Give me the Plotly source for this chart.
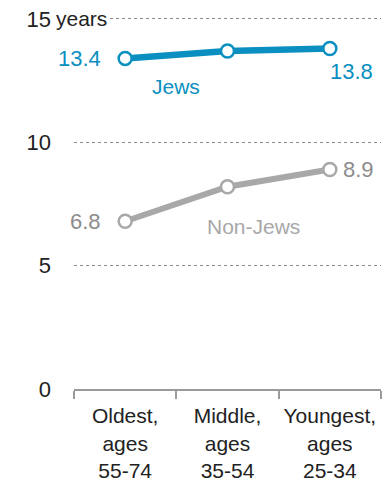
import plotly.graph_objects as go

categories = ["Oldest,<br>ages<br>55-74", "Middle,<br>ages<br>35-54", "Youngest,<br>ages<br>25-34"]
jews = [13.4, 13.7, 13.8]
non_jews = [6.8, 8.2, 8.9]
y_ticks = [0, 5, 10, 15]
y_ticktext = ["0", "5", "10", "15"]

BLUE = "#0a8fc0"
GRAY = "#a8a8a8"
GRAY_TEXT = "#8c8c8c"
FONT = "Liberation Sans"

fig = go.Figure()
fig.add_trace(go.Scatter(
    x=categories, y=non_jews, mode="lines+markers",
    line=dict(color=GRAY, width=6),
    marker=dict(size=13, color="white", line=dict(color=GRAY, width=2.5)),
    cliponaxis=False, hoverinfo="skip"))
fig.add_trace(go.Scatter(
    x=categories, y=jews, mode="lines+markers",
    line=dict(color=BLUE, width=6.5),
    marker=dict(size=13, color="white", line=dict(color=BLUE, width=2.5)),
    cliponaxis=False, hoverinfo="skip"))

ann = []
ann.append(dict(x=0, y=jews[0], text=f"{jews[0]}", xanchor="right", yanchor="middle",
                xshift=-22, font=dict(color=BLUE, size=22)))
ann.append(dict(x=2, y=jews[2], text=f"{jews[2]}", xanchor="left", yanchor="top",
                xshift=-2, yshift=-8, font=dict(color=BLUE, size=22)))
ann.append(dict(x=0, y=non_jews[0], text=f"{non_jews[0]}", xanchor="right", yanchor="middle",
                xshift=-22, font=dict(color=GRAY_TEXT, size=22)))
ann.append(dict(x=2, y=non_jews[2], text=f"{non_jews[2]}", xanchor="left", yanchor="middle",
                xshift=11, font=dict(color=GRAY_TEXT, size=22)))
ann.append(dict(x=0.5, y=12.25, text="Jews", xanchor="center", yanchor="middle",
                font=dict(color=BLUE, size=21)))
ann.append(dict(x=1.25, y=6.57, text="Non-Jews", xanchor="center", yanchor="middle",
                font=dict(color=GRAY, size=21)))
ann.append(dict(x=-0.5, y=15, text="years", xanchor="left", yanchor="middle",
                xshift=-21, font=dict(color="#222222", size=21), bgcolor="white",
                borderpad=2))
for a in ann:
    a.update(xref="x", yref="y", showarrow=False)

fig.update_layout(
    width=385, height=483,
    margin=dict(l=74, r=4, t=14, b=94),
    paper_bgcolor="white", plot_bgcolor="white",
    showlegend=False,
    font=dict(family=FONT, color="#222222", size=21),
    annotations=ann,
    xaxis=dict(
        type="category", range=[-0.5, 2.5],
        showgrid=False, zeroline=False, automargin=False, tickangle=0,
        showline=True, linecolor="#9a9a9a", linewidth=2,
        ticks="outside", tickson="boundaries", ticklen=8, tickwidth=2, tickcolor="#9a9a9a",
        ticklabelstandoff=7,
        tickfont=dict(size=21, color="#222222"),
    ),
    yaxis=dict(
        range=[0, 15.2], tickvals=y_ticks, ticktext=y_ticktext,
        showgrid=True, gridcolor="#8a8a8a", griddash="dot", gridwidth=1,
        zeroline=False, showline=False, ticks="", automargin=False,
        ticklabelstandoff=22,
        tickfont=dict(size=22, color="#222222"),
    ),
)

fig.write_html("out.html", config={"displayModeBar": False},
               post_script="document.body.style.margin='0';document.body.style.overflow='hidden';")
